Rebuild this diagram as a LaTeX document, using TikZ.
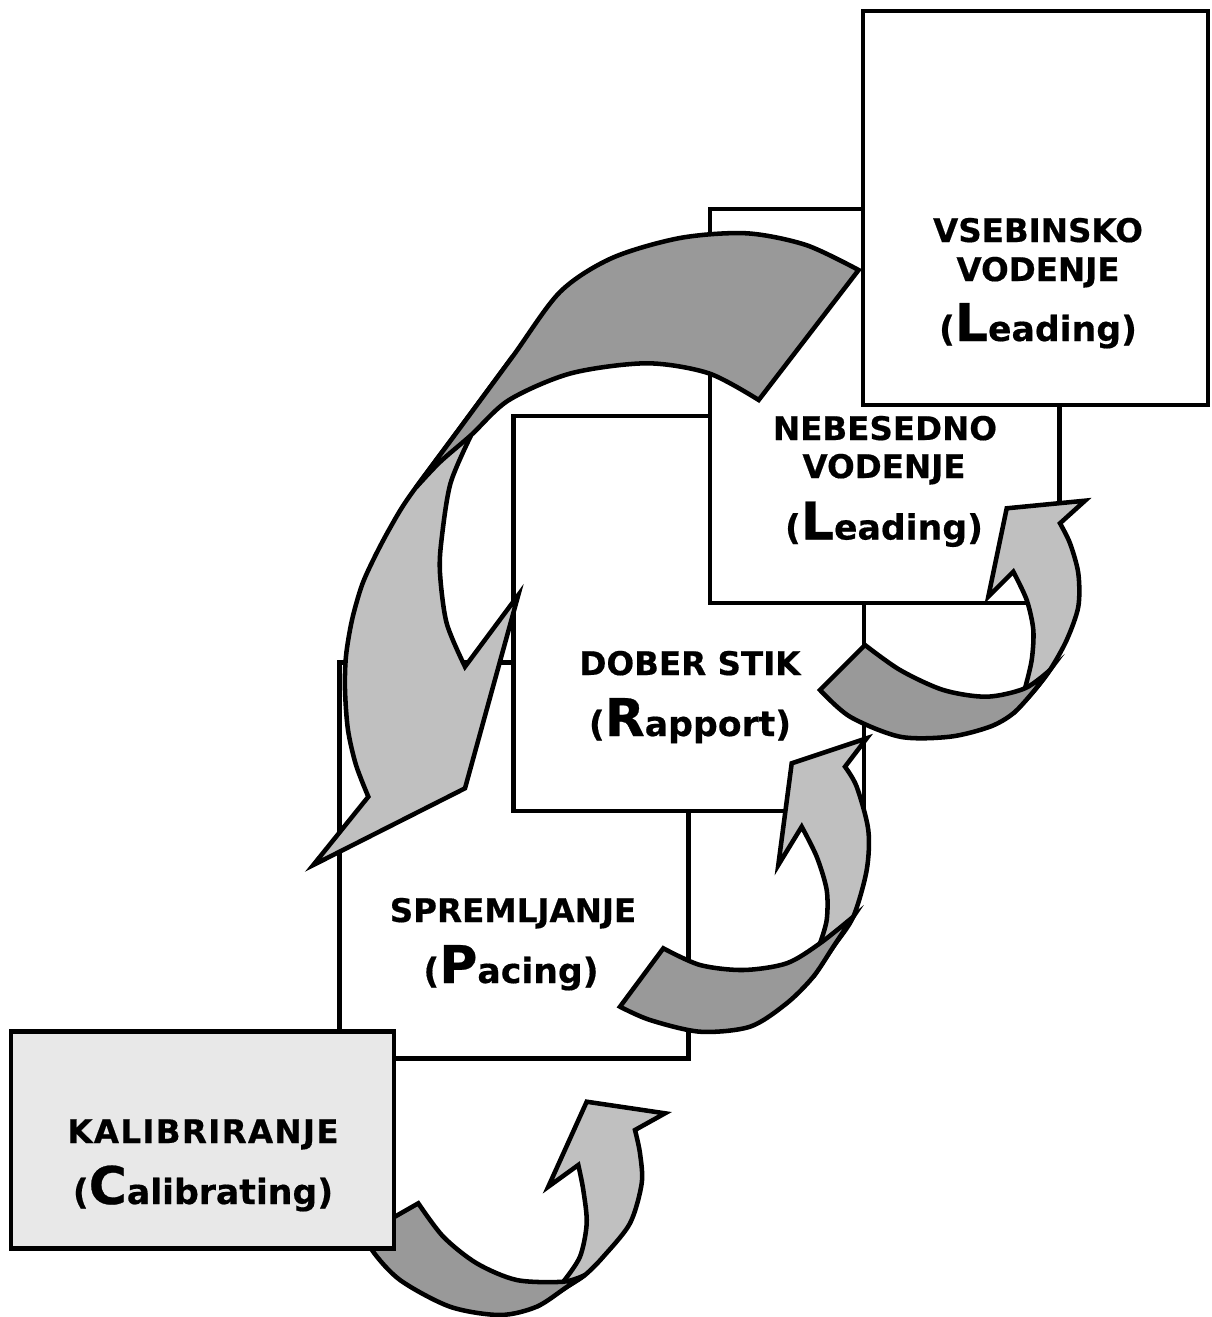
\documentclass[tikz,border=0pt]{standalone}
\usepackage{fontspec}
\setmainfont{DejaVu Sans}[BoldFeatures={FakeBold=0.5}]
\definecolor{darkg}{RGB}{153,153,153}
\definecolor{lightg}{RGB}{192,192,192}
\definecolor{kalg}{RGB}{232,232,232}
\newcommand\mylead[2]{{\fontsize{26}{26}\selectfont(}{\fontsize{39}{39}\selectfont #1}{\fontsize{26}{26}\selectfont #2)}}
\begin{document}
\begin{tikzpicture}[x=0.75pt,y=-0.75pt,
  box/.style={draw, line width=3.4pt, fill=white, inner sep=0pt, outer sep=0pt},
  ltfill/.style={fill=lightg},
  outl/.style={draw, line width=3.4pt, line join=miter},
  dk/.style={draw, line width=3.4pt, fill=darkg, line join=miter},
  hd/.style={inner sep=0pt, anchor=base, font=\bfseries\fontsize{24.4}{24.4}\selectfont}]
\useasboundingbox (0,0) rectangle (1211,1317);
% boxes
\node[box, minimum width=349*0.75pt, minimum height=395.6*0.75pt] (spr) at (514,860.5) {};
\node[box, minimum width=350.5*0.75pt, minimum height=395*0.75pt] (dob) at (688.75,613.5) {};
\node[box, minimum width=349.5*0.75pt, minimum height=394*0.75pt] (neb) at (884.75,406) {};
\node[box, minimum width=345*0.75pt, minimum height=394*0.75pt] (vse) at (1035.5,208) {};
% big arrow
\fill[ltfill] plot[smooth] coordinates {(512.5,356.7) (460.9,426.7) (409.2,496.7) (390,528) (374.8,556.7) (362,585) (352,620) (346,656) (345,690) (348,730) (356,765) (368.3,796.7)} -- (313.3,865) -- (465,788.3) -- (518.3,595) -- (465,666.7) -- plot[smooth] coordinates {(465,666.7) (446.7,623.3) (440,573.3) (441.5,540) (450.5,483.3) (471.2,435)} -- cycle;
\draw[outl] plot[smooth] coordinates {(512.5,356.7) (460.9,426.7) (409.2,496.7) (390,528) (374.8,556.7) (362,585) (352,620) (346,656) (345,690) (348,730) (356,765) (368.3,796.7)} -- (313.3,865) -- (465,788.3) -- (518.3,595) -- (465,666.7) -- plot[smooth] coordinates {(465,666.7) (446.7,623.3) (440,573.3) (441.5,540) (450.5,483.3) (471.2,435)};
\filldraw[dk] plot[smooth] coordinates {(858.6,270) (806,245) (746.7,233.3) (680,238) (612,258) (560,292) (512.5,356.7) (460.9,426.7) (416,487.5)} -- plot[smooth] coordinates {(416,487.5) (440,462) (471.2,435) (509,400) (571,373.3) (646.8,363.3) (708.8,373.3) (758.7,400)} -- cycle;
% arrow C
\fill[ltfill] plot[smooth] coordinates {(1013.3,713.3) (1033.3,691.7) (1050,670) (1066.7,640) (1078.3,606.7) (1078.3,573.3) (1070,543.3) (1060,523.3)} -- (1085,500.7) -- (1006.7,508.3) -- (988.3,596.7) -- (1013.3,571.7) -- plot[smooth] coordinates {(1013.3,571.7) (1026.7,600) (1033.3,630) (1031.7,660) (1025,688.3)} -- cycle;
\draw[outl] plot[smooth] coordinates {(1013.3,713.3) (1033.3,691.7) (1050,670) (1066.7,640) (1078.3,606.7) (1078.3,573.3) (1070,543.3) (1060,523.3)} -- (1085,500.7) -- (1006.7,508.3) -- (988.3,596.7) -- (1013.3,571.7) -- plot[smooth] coordinates {(1013.3,571.7) (1026.7,600) (1033.3,630) (1031.7,660) (1025,688.3)};
\filldraw[dk] (865,645) -- plot[smooth] coordinates {(820,690) (850,716.7) (900,736.7) (950,736.7) (990,726.7) (1013.3,713.3) (1033.3,691.7) (1050,670)} -- plot[smooth] coordinates {(1050,670) (1025,688.3) (986.7,696.7) (943.3,690) (900,670) (865,645)} -- cycle;
% arrow B
\fill[ltfill] plot[smooth] coordinates {(813.3,976.7) (833.3,946.7) (853.3,916.7) (866.7,870) (868.3,830) (856.7,786.7) (845,766.7)} -- (866.7,738.3) -- (791.7,763.3) -- (778.3,865) -- (801.7,826.7) -- plot[smooth] coordinates {(801.7,826.7) (816.7,856.7) (826.7,890) (826.7,920) (820,943.3)} -- cycle;
\draw[outl] plot[smooth] coordinates {(813.3,976.7) (833.3,946.7) (853.3,916.7) (866.7,870) (868.3,830) (856.7,786.7) (845,766.7)} -- (866.7,738.3) -- (791.7,763.3) -- (778.3,865) -- (801.7,826.7) -- plot[smooth] coordinates {(801.7,826.7) (816.7,856.7) (826.7,890) (826.7,920) (820,943.3)};
\filldraw[dk] (663.3,948.3) -- plot[smooth] coordinates {(620,1006.7) (650,1020) (700,1031.7) (750,1026.7) (786.7,1003.3) (813.3,976.7) (833.3,946.7) (853.3,916.7)} -- plot[smooth] coordinates {(853.3,916.7) (820,943.3) (786.7,963.3) (743.3,970) (700,965) (663.3,948.3)} -- cycle;
% arrow A
\fill[ltfill] plot[smooth] coordinates {(536.7,1306.7) (566.7,1287) (585,1275) (603.3,1256.7) (630,1223.3) (641.7,1183.3) (640,1153.3) (635,1130)} -- (665,1113.3) -- (586.7,1101.7) -- (548.3,1186.7) -- (578.3,1165) -- plot[smooth] coordinates {(578.3,1165) (583.3,1190) (586.7,1223.3) (580,1256.7) (563.3,1281.7)} -- cycle;
\draw[outl] plot[smooth] coordinates {(536.7,1306.7) (566.7,1287) (585,1275) (603.3,1256.7) (630,1223.3) (641.7,1183.3) (640,1153.3) (635,1130)} -- (665,1113.3) -- (586.7,1101.7) -- (548.3,1186.7) -- (578.3,1165) -- plot[smooth] coordinates {(578.3,1165) (583.3,1190) (586.7,1223.3) (580,1256.7) (563.3,1281.7)};
\filldraw[dk] (418.3,1203.3) -- plot[smooth] coordinates {(368,1232) (372,1250) (400,1280) (450,1306.7) (500,1315) (536.7,1306.7) (566.7,1287) (585,1275)} -- plot[smooth] coordinates {(585,1275) (563.3,1281.7) (516.7,1280) (476.7,1263.3) (443.3,1236.7) (418.3,1203.3)} -- cycle;
% calibrating box
\node[box, fill=kalg, minimum width=383*0.75pt, minimum height=216.6*0.75pt] (kal) at (202.5,1140) {};
% texts
\node[hd] (vse1) at (1038,242) {VSEBINSKO};
\node[hd] (vse2) at (1038,281) {VODENJE};
\node[hd] (vse3) at (1038,341) {\mylead{L}{eading}};
\node[hd] (neb1) at (885,440) {NEBESEDNO};
\node[hd] (neb2) at (884,478) {VODENJE};
\node[hd] (neb3) at (884,539.5) {\mylead{L}{eading}};
\node[hd] (dob1) at (690,675) {DOBER STIK};
\node[hd] (dob2) at (690,736) {\mylead{R}{apport}};
\node[hd] (spr1) at (513,922) {SPREMLJANJE};
\node[hd] (spr2) at (511,983) {\mylead{P}{acing}};
\node[hd] (kal1) at (203,1143) {\addfontfeature{LetterSpace=4}KALIBRIRANJE};
\node[hd] (kal2) at (203,1204) {\mylead{C}{alibrating}};
\end{tikzpicture}
\end{document}
